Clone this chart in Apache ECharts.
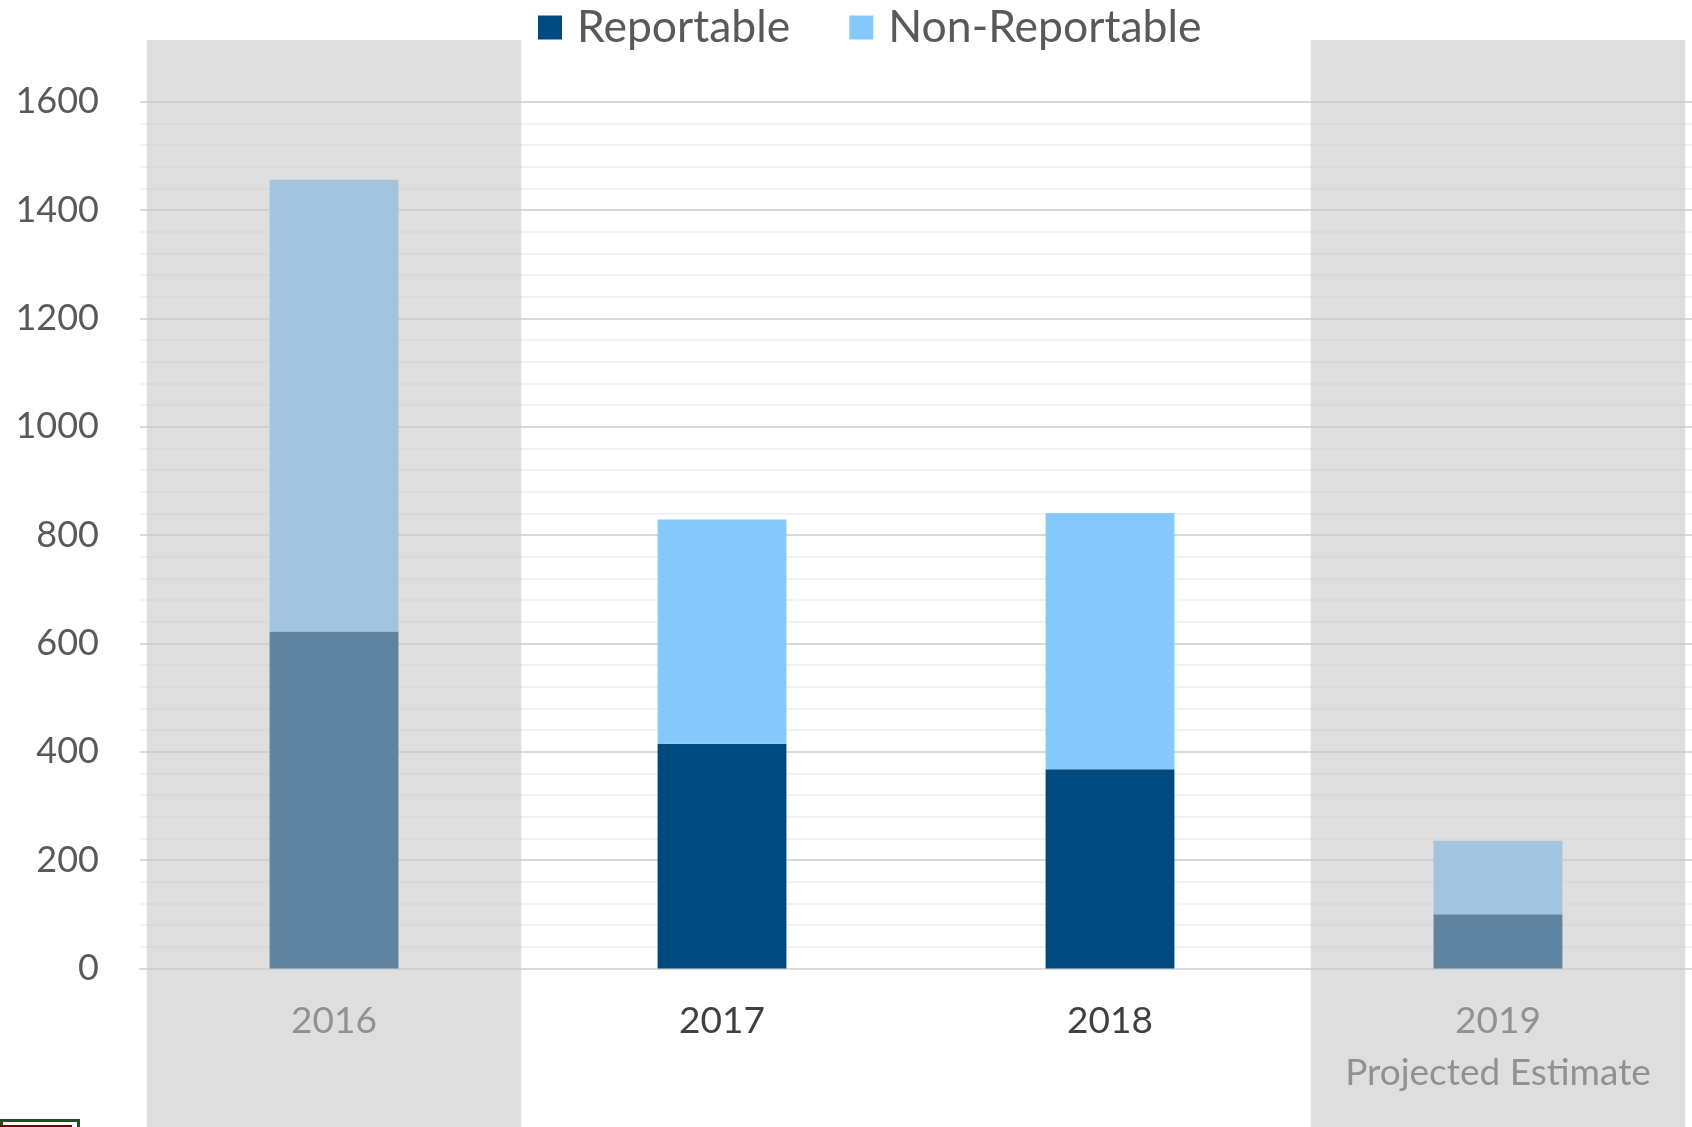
<!DOCTYPE html>
<html>
<head>
<meta charset="utf-8">
<script src="https://cdn.jsdelivr.net/npm/echarts@6/dist/echarts.min.js"></script>
<style>
html,body{margin:0;padding:0;background:#fff;}
#chart{width:1692px;height:1127px;}
</style>
</head>
<body>
<div id="chart"></div>
<script>
const categories = ['2016', '2017', '2018', '2019\nProjected Estimate'];
const reportable = [622, 415, 368, 100];
const nonReportable = [834, 414, 473, 136];
const shadedCategories = [0, 3];
const yTicks = { min: 0, max: 1600, interval: 200 };

const colors = { rep: '#004A80', non: '#84C8FC', repFaded: '#5F84A2', nonFaded: '#A2C4DF' };
const FONT = 'Lato, "Open Sans", sans-serif';

function itemData(vals, vivid, faded) {
  return vals.map((v, i) => ({
    value: v,
    itemStyle: { color: shadedCategories.includes(i) ? faded : vivid }
  }));
}

const chart = echarts.init(document.getElementById('chart'));
const option = {
  animation: false,
  backgroundColor: '#ffffff',
  textStyle: { fontFamily: FONT },
  legend: {
    left: 533, top: 0,
    icon: 'rect', itemWidth: 24, itemHeight: 24, itemGap: 59,
    textStyle: { fontSize: 44.5, color: '#595959', fontFamily: FONT, padding: [0, 0, 0, 10] },
    data: ['Reportable', 'Non-Reportable']
  },
  grid: { left: 140, right: -4, top: 101.7, bottom: 158.5, containLabel: false },
  xAxis: {
    type: 'category',
    data: categories,
    axisTick: { show: false },
    axisLine: { lineStyle: { color: '#D9D9D9', width: 2 } },
    axisLabel: { fontSize: 37, color: '#404040', lineHeight: 52, margin: 27, fontFamily: FONT, interval: 0 }
  },
  yAxis: {
    type: 'value',
    min: yTicks.min, max: yTicks.max, interval: yTicks.interval,
    axisLine: { show: false },
    axisTick: { show: false },
    axisLabel: { fontSize: 36, color: '#595959', margin: 41, fontFamily: FONT, formatter: v => String(v) },
    splitLine: { lineStyle: { color: '#D9D9D9', width: 2 } },
    minorTick: { show: false, splitNumber: 5 },
    minorSplitLine: { show: true, lineStyle: { color: '#F2F2F2', width: 2 } }
  },
  series: [
    { name: 'Reportable', type: 'bar', stack: 'total', barWidth: '33.2%',
      itemStyle: { color: colors.rep }, data: itemData(reportable, colors.rep, colors.repFaded) },
    { name: 'Non-Reportable', type: 'bar', stack: 'total', barWidth: '33.2%',
      itemStyle: { color: colors.non }, data: itemData(nonReportable, colors.non, colors.nonFaded) }
  ]
};
chart.setOption(option);

// shaded background bands, placed from the category axis scale
const c0 = chart.convertToPixel({ xAxisIndex: 0 }, 0);
const c1 = chart.convertToPixel({ xAxisIndex: 0 }, 1);
const bw = (c1 - c0) * 0.965;
const elements = shadedCategories.map(i => {
  const cx = chart.convertToPixel({ xAxisIndex: 0 }, i);
  return {
    type: 'rect', z: 1, silent: true,
    shape: { x: cx - bw / 2, y: 40, width: bw, height: 1200 },
    style: { fill: 'rgba(200,200,200,0.6)' }
  };
});
elements.push({
  type: 'rect', z: 5, silent: true,
  shape: { x: 1.5, y: 1120.5, width: 77, height: 30 },
  style: { fill: '#ffffff', stroke: '#1F4E1F', lineWidth: 3 }
});
elements.push({
  type: 'line', z: 6, silent: true,
  shape: { x1: 0, y1: 1126, x2: 72, y2: 1126 },
  style: { stroke: '#7A0000', lineWidth: 2 }
});
chart.setOption({ graphic: { elements: elements } });
</script>
</body>
</html>
